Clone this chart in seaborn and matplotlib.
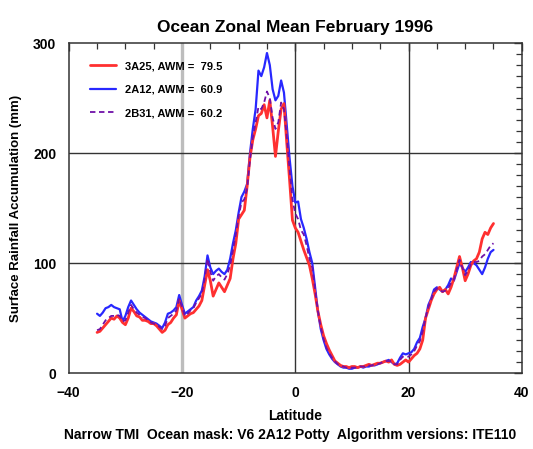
import numpy as np
import pandas as pd
import matplotlib
matplotlib.use("Agg")
import matplotlib.pyplot as plt
import seaborn as sns
from matplotlib.ticker import MultipleLocator

# latitude grid, 0.5 deg
lat = np.arange(-35, 35.5, 0.5)

# 3A25 (red)
r3a25 = [37, 38, 41, 44, 47, 50, 49, 52, 50, 46,
         44, 50, 59, 56, 52, 51, 48, 48, 47, 45,
         45, 43, 40, 37, 39, 44, 46, 50, 53, 66,
         58, 50, 52, 54, 55, 58, 61, 66, 80, 94,
         84, 70, 76, 82, 78, 74, 80, 86, 104, 118,
         140, 144, 148, 170, 196, 212, 222, 234, 236, 244,
         232, 248, 224, 197, 220, 240, 245, 209, 175, 139,
         132, 128, 120, 112, 105, 98, 86, 72, 56, 44,
         34, 27, 21, 16, 11, 9, 7, 6, 6, 5,
         6, 6, 5, 6, 6, 7, 8, 7, 8, 9,
         9, 10, 11, 10, 12, 8, 7, 8, 10, 12,
         10, 13, 16, 18, 22, 30, 50, 58, 66, 72,
         76, 78, 74, 76, 72, 78, 86, 96, 106, 96,
         84, 90, 98, 102, 104, 110, 122, 128, 126, 132,
         136]

# 2A12 (blue)
r2a12 = [54, 52, 55, 59, 60, 62, 60, 59, 58, 47,
         52, 60, 66, 62, 58, 55, 53, 51, 49, 47,
         46, 45, 43, 41, 46, 54, 55, 57, 60, 71,
         62, 54, 56, 58, 60, 66, 70, 75, 88, 107,
         96, 90, 93, 95, 92, 90, 94, 104, 118, 130,
         146, 160, 165, 172, 200, 222, 240, 275, 270, 278,
         291, 280, 258, 248, 252, 266, 255, 225, 195, 170,
         155, 156, 140, 132, 122, 110, 100, 78, 56, 40,
         30, 22, 17, 13, 10, 8, 6, 5, 5, 4,
         4, 5, 5, 6, 5, 6, 6, 7, 7, 8,
         9, 10, 11, 12, 10, 8, 9, 14, 18, 17,
         18, 19, 22, 28, 32, 42, 50, 62, 68, 76,
         78, 76, 74, 76, 80, 86, 84, 92, 100, 96,
         92, 96, 101, 100, 98, 94, 90, 96, 104, 110,
         112]

# 2B31 (purple)
r2b31 = [39, 40, 44, 48, 50, 52, 52, 53, 52, 47,
         48, 55, 62, 58, 55, 53, 51, 50, 48, 46,
         45, 44, 42, 40, 43, 50, 52, 54, 57, 68,
         60, 52, 54, 57, 59, 64, 68, 72, 86, 104,
         92, 84, 88, 90, 87, 85, 90, 98, 112, 126,
         143, 155, 158, 168, 194, 214, 228, 242, 240, 246,
         256, 250, 232, 222, 228, 246, 240, 215, 185, 158,
         145, 140, 130, 126, 116, 104, 96, 76, 56, 42,
         31, 23, 18, 14, 11, 8, 7, 6, 5, 5,
         5, 5, 5, 6, 6, 6, 7, 7, 8, 8,
         9, 10, 11, 11, 11, 8, 8, 12, 15, 15,
         15, 17, 20, 25, 29, 38, 50, 60, 67, 74,
         77, 76, 74, 75, 77, 82, 85, 94, 103, 96,
         89, 93, 99, 101, 101, 102, 106, 108, 112, 116,
         118]

labels = ["3A25, AWM =  79.5", "2A12, AWM =  60.9", "2B31, AWM =  60.2"]
colors = ["#ff3030", "#2828ff", "#7010a8"]

sns.set_style("white")
plt.rcParams["font.family"] = ["Liberation Sans", "DejaVu Sans"]
plt.rcParams["font.weight"] = "bold"
plt.rcParams["text.color"] = "black"
plt.rcParams["axes.labelcolor"] = "black"
plt.rcParams["xtick.labelcolor"] = "black"
plt.rcParams["ytick.labelcolor"] = "black"

fig = plt.figure(figsize=(5.33, 4.49), dpi=100)
ax = fig.add_axes([0.129, 0.169, 0.850, 0.735])

# grid lines
ax.axvline(-20, color="#bdbdbd", lw=2.4, zorder=1)
for x in (0, 20):
    ax.axvline(x, color="#333333", lw=1.0, zorder=1)
for y in (100, 200):
    ax.axhline(y, color="#333333", lw=1.0, zorder=1)

sns.lineplot(x=lat, y=r2a12, color=colors[1], lw=1.6, ax=ax, label=labels[1], zorder=3)
sns.lineplot(x=lat, y=r3a25, color=colors[0], lw=2.0, ax=ax, label=labels[0], zorder=4)
sns.lineplot(x=lat, y=r2b31, color=colors[2], lw=1.3, ax=ax, label=labels[2], zorder=5,
             linestyle=(0, (3, 2)))

ax.set_xlim(-40, 40)
ax.set_ylim(0, 300)
ax.xaxis.set_major_locator(MultipleLocator(20))
ax.xaxis.set_minor_locator(MultipleLocator(5))
ax.yaxis.set_major_locator(MultipleLocator(100))
ax.yaxis.set_minor_locator(MultipleLocator(10))
ax.tick_params(which="both", direction="in", top=True, right=True, color="#333333")
ax.tick_params(which="major", length=6, width=1.0, labelsize=10, pad=9)
ax.tick_params(which="minor", length=4, width=0.9)
for s in ax.spines.values():
    s.set_color("#333333")
    s.set_linewidth(1.1)

ax.set_title("Ocean Zonal Mean February 1996", fontsize=12.5, pad=8, fontweight="bold")
ax.set_xlabel("Latitude", fontsize=10, labelpad=7, fontweight="bold")
ax.set_ylabel("Surface Rainfall Accumulation (mm)", fontsize=9.5, labelpad=8,
              fontweight="bold")

handles, labs = ax.get_legend_handles_labels()
order = [labs.index(l) for l in labels]
ax.legend([handles[i] for i in order], [labs[i] for i in order],
          loc="upper left", frameon=False, handlelength=2.3,
          bbox_to_anchor=(0.025, 0.975), labelspacing=1.2, prop={"weight": "bold", "size": 8})

fig.text(0.545, 0.022, "Narrow TMI  Ocean mask: V6 2A12 Potty  Algorithm versions: ITE110",
         ha="center", fontsize=10, fontweight="bold")

fig.savefig("out.png", dpi=100)
